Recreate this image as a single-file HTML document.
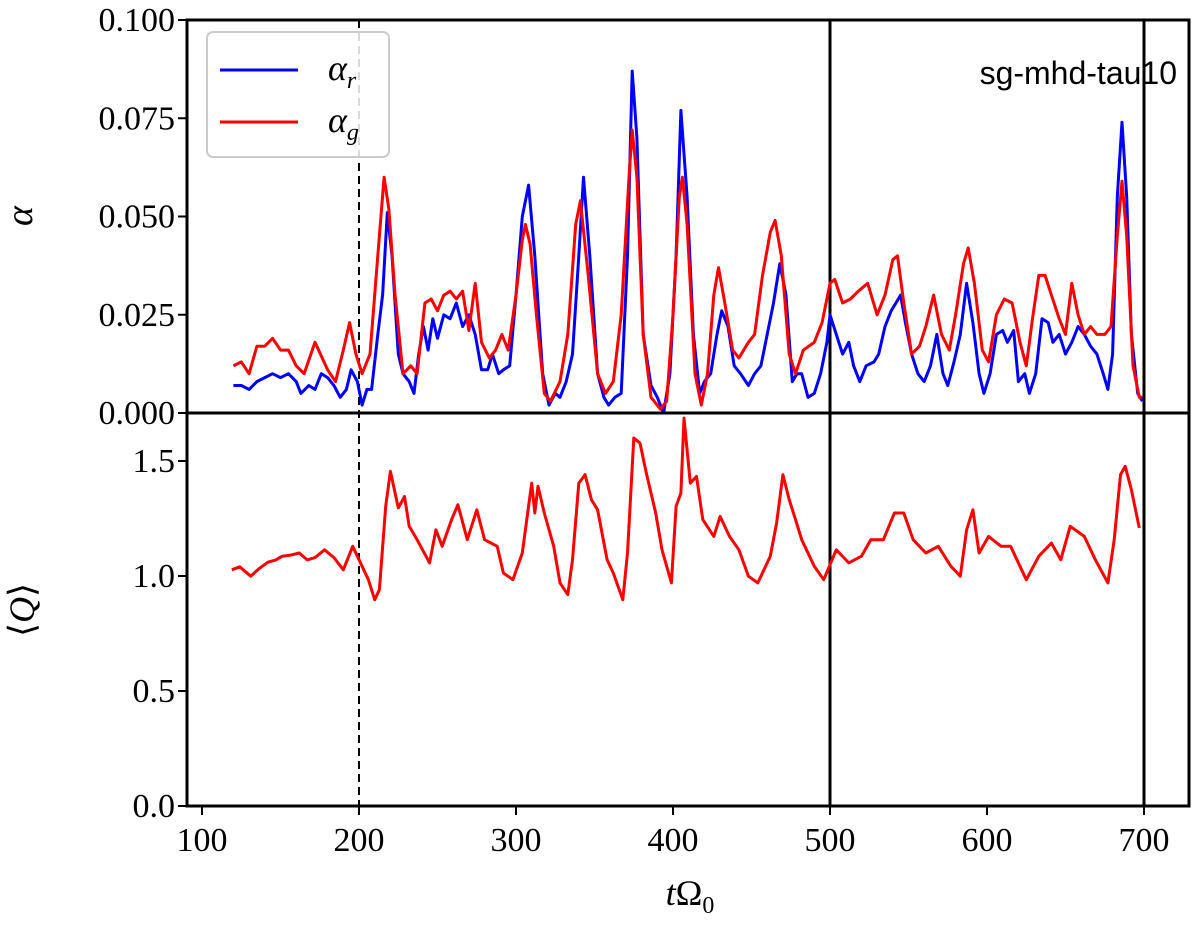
<!DOCTYPE html>
<html><head><meta charset="utf-8"><style>
body{margin:0;background:#fff;}
</style></head><body>
<svg id="chart" width="1200" height="936" viewBox="0 0 1200 936" xmlns="http://www.w3.org/2000/svg" style="position:absolute;left:0;top:0"></svg>
<script>
const tG=[120,125,130,135,140,145,150,155,160,165,172,180,185,190,194,198,202,207,212,216,219,223,228,233,237,242,246,250,254,258,262,266,270,274,278,283,287,291,295,300,304,306,309,313,318,322,328,333,338,341,346,352,357,362,367,372,374,377,381,386,392,396,400,404,406,409,414,418,422,426,429,433,438,442,448,452,457,462,465,469,474,478,483,490,495,500,503,508,513,518,524,530,535,540,543,547,552,557,561,566,571,576,580,585,588,592,597,601,606,611,616,621,625,629,633,637,641,646,650,654,658,662,666,670,675,679,683,686,689,693,697,699];
const alphaG=[0.012,0.013,0.010,0.017,0.017,0.019,0.016,0.016,0.012,0.010,0.018,0.011,0.008,0.016,0.023,0.015,0.010,0.015,0.040,0.060,0.052,0.030,0.010,0.012,0.010,0.028,0.029,0.026,0.030,0.031,0.029,0.031,0.021,0.033,0.018,0.014,0.016,0.020,0.016,0.030,0.044,0.048,0.043,0.025,0.005,0.003,0.008,0.020,0.048,0.054,0.035,0.010,0.005,0.008,0.025,0.060,0.072,0.060,0.020,0.004,0.001,0.003,0.025,0.055,0.060,0.048,0.010,0.002,0.010,0.030,0.037,0.028,0.016,0.014,0.018,0.020,0.035,0.046,0.049,0.040,0.015,0.010,0.016,0.018,0.023,0.033,0.034,0.028,0.029,0.031,0.033,0.025,0.030,0.039,0.040,0.028,0.015,0.017,0.022,0.030,0.020,0.016,0.025,0.038,0.042,0.033,0.016,0.013,0.025,0.029,0.028,0.018,0.012,0.024,0.035,0.035,0.030,0.024,0.020,0.033,0.025,0.020,0.022,0.020,0.020,0.022,0.045,0.059,0.045,0.012,0.004,0.004];
const tR=[120,125,130,135,140,145,150,155,160,163,168,172,176,180,184,188,192,195,199,202,205,208,212,215,218,221,225,228,232,235,238,241,244,247,250,254,258,262,266,270,274,278,282,285,289,292,296,300,304,308,312,317,321,325,328,332,336,340,343,347,352,356,359,363,367,371,374,377,381,386,390,394,398,402,405,409,413,417,420,424,428,431,435,439,443,448,452,456,460,464,468,472,476,479,482,486,490,494,498,500,504,508,512,515,519,523,528,531,535,539,542,545,548,552,556,560,564,568,572,575,579,583,587,591,595,598,602,606,610,613,617,620,624,627,631,635,639,642,646,650,654,658,662,666,670,674,677,680,683,686,689,692,696,699];
const alphaR=[0.007,0.007,0.006,0.008,0.009,0.010,0.009,0.010,0.008,0.005,0.007,0.006,0.010,0.009,0.007,0.004,0.006,0.011,0.008,0.002,0.006,0.006,0.020,0.030,0.051,0.040,0.015,0.010,0.008,0.005,0.015,0.022,0.016,0.024,0.019,0.025,0.024,0.028,0.022,0.025,0.020,0.011,0.011,0.015,0.010,0.011,0.012,0.030,0.050,0.058,0.040,0.010,0.002,0.005,0.004,0.008,0.015,0.040,0.060,0.040,0.010,0.004,0.002,0.004,0.005,0.040,0.087,0.070,0.020,0.007,0.004,0.000,0.010,0.040,0.077,0.055,0.020,0.005,0.008,0.010,0.020,0.026,0.022,0.012,0.010,0.007,0.010,0.012,0.020,0.028,0.038,0.030,0.008,0.010,0.010,0.004,0.005,0.010,0.018,0.025,0.020,0.015,0.018,0.012,0.008,0.012,0.013,0.015,0.022,0.026,0.028,0.030,0.023,0.015,0.010,0.008,0.012,0.020,0.010,0.007,0.013,0.020,0.033,0.023,0.010,0.005,0.010,0.020,0.021,0.018,0.021,0.008,0.010,0.005,0.010,0.024,0.023,0.018,0.020,0.015,0.018,0.022,0.020,0.017,0.015,0.010,0.006,0.015,0.055,0.074,0.055,0.020,0.005,0.003];
const tQ=[119,124,131,136,142,147,151,156,162,167,172,178,184,190,196,200,206,210,213,217,220,225,229,232,237,245,249,253,259,263,269,275,280,288,292,298,304,310,312,314,318,324,328,333,336,340,344,348,352,358,362,368,371,375,379,383,389,393,399,402,405,407,411,415,419,426,430,436,442,448,454,462,466,470,474,478,482,490,496,504,512,520,526,534,541,547,553,561,569,577,583,587,591,595,601,609,615,621,625,633,641,647,653,662,669,677,681,685,688,692,695,697];
const qVals=[1.027,1.04,0.999,1.03,1.06,1.07,1.086,1.09,1.10,1.07,1.08,1.114,1.08,1.027,1.129,1.071,0.984,0.897,0.941,1.303,1.455,1.296,1.346,1.216,1.158,1.057,1.201,1.129,1.245,1.310,1.158,1.288,1.158,1.129,1.013,0.984,1.100,1.404,1.274,1.390,1.274,1.129,0.970,0.919,1.071,1.404,1.441,1.332,1.288,1.071,1.013,0.897,1.100,1.600,1.578,1.448,1.274,1.114,0.970,1.303,1.361,1.687,1.404,1.433,1.245,1.172,1.259,1.172,1.114,0.999,0.970,1.086,1.230,1.441,1.332,1.245,1.158,1.042,0.984,1.114,1.057,1.086,1.158,1.158,1.274,1.274,1.158,1.100,1.129,1.042,0.999,1.201,1.288,1.100,1.172,1.129,1.129,1.042,0.984,1.086,1.143,1.071,1.216,1.172,1.071,0.970,1.158,1.441,1.477,1.375,1.274,1.209];
const yTicksA=["0.000","0.025","0.050","0.075","0.100"];
const yTicksQ=["0.0","0.5","1.0","1.5"];
const xTicks=[100,200,300,400,500,600,700];

const NS="http://www.w3.org/2000/svg";
const svg=document.getElementById('chart');
const L=187,R=1189,T=20,M=413,B=806;
const xS=t=>202+(t-100)*1.57;
const yA=v=>M-(v/0.1)*(M-T);
const yQ=v=>B-v*230;
const SERIF='"Liberation Serif","DejaVu Serif",serif';
function el(tag,attrs,parent){const e=document.createElementNS(NS,tag);for(const k in attrs)e.setAttribute(k,attrs[k]);(parent||svg).appendChild(e);return e;}
function line(ts,vs,yf,color,name){
  const d=ts.map((t,i)=>(i?'L':'M')+xS(t).toFixed(1)+','+yf(vs[i]).toFixed(1)).join('');
  const p=el('path',{d:d,fill:'none',stroke:color,'stroke-width':3,'stroke-linejoin':'round'});
  
  
}
const vl=[[200,'dash'],[500,'solid'],[700,'solid']];
vl.forEach(([t,s])=>{const l=el('line',{x1:xS(t),x2:xS(t),y1:T,y2:B,stroke:'#000','stroke-width':s==='dash'?2:3,'stroke-dasharray':s==='dash'?'8,5':'none'});
  
  });
line(tR,alphaR,yA,'#0000ff','alpha-r-line');
line(tG,alphaG,yA,'#ff0000','alpha-g-line');
line(tQ,qVals,yQ,'#ff0000','q-line');
[[T,M,'top-axes-frame'],[M,B,'bottom-axes-frame']].forEach(([a,b,n])=>{const r=el('rect',{x:L,y:a,width:R-L,height:b-a,fill:'none',stroke:'#000','stroke-width':3});
  
  });
yTicksA.forEach(s=>{const y=yA(parseFloat(s));el('line',{x1:L-9,x2:L,y1:y,y2:y,stroke:'#000','stroke-width':2});
  const t=el('text',{x:L-12,y:y+11,'font-size':34,'text-anchor':'end','font-family':SERIF});t.textContent=s;
  
  });
yTicksQ.forEach(s=>{const y=yQ(parseFloat(s));el('line',{x1:L-9,x2:L,y1:y,y2:y,stroke:'#000','stroke-width':2});
  const t=el('text',{x:L-12,y:y+11,'font-size':34,'text-anchor':'end','font-family':SERIF});t.textContent=s;
  
  });
xTicks.forEach(v=>{const x=xS(v);el('line',{x1:x,x2:x,y1:B,y2:B+9,stroke:'#000','stroke-width':2});
  const t=el('text',{x:x,y:B+45,'font-size':34,'text-anchor':'middle','font-family':SERIF});t.textContent=v;
  
  });
</script>
<svg style="position:absolute;left:0;top:0" width="1200" height="936">
<g>
<rect x="207" y="32" width="182" height="125" rx="6" fill="#fff" fill-opacity="0.85" stroke="#ccc" stroke-width="2"/>
<line x1="220" y1="70" x2="298" y2="70" stroke="#0000ff" stroke-width="3"/>
<text x="328" y="80" font-size="36" font-style="italic" style="font-family:'Liberation Serif',serif">α<tspan font-size="24" dy="8">r</tspan></text>
<line x1="220" y1="122" x2="298" y2="122" stroke="#ff0000" stroke-width="3"/>
<text x="328" y="132" font-size="36" font-style="italic" style="font-family:'Liberation Serif',serif">α<tspan font-size="24" dy="8">g</tspan></text>
</g>
<text x="1177" y="84" font-size="32" text-anchor="end" style="font-family:'Liberation Sans','DejaVu Sans',sans-serif">sg-mhd-tau10</text>
<text x="0" y="0" font-size="38" font-style="italic" style="font-family:'Liberation Serif',serif" transform="translate(32,216) rotate(-90)" text-anchor="middle">α</text>
<text x="0" y="0" font-size="36" style="font-family:'Liberation Serif',serif" transform="translate(34,610) rotate(-90)" text-anchor="middle">⟨<tspan font-style="italic">Q</tspan>⟩</text>
<text x="690" y="905" font-size="36" text-anchor="middle" style="font-family:'Liberation Serif',serif"><tspan font-style="italic">t</tspan>Ω<tspan font-size="24" dy="8">0</tspan></text>
</svg>
</body></html>
